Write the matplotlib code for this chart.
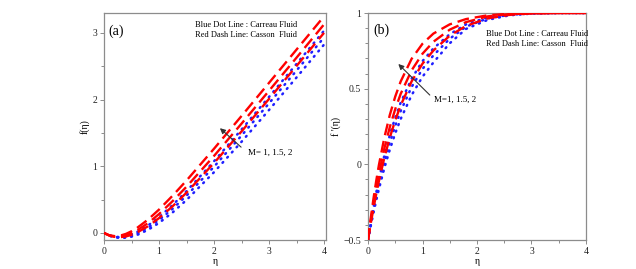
import matplotlib
matplotlib.use("Agg")
import matplotlib.pyplot as plt
from matplotlib.ticker import MultipleLocator

plt.rcParams["font.family"] = ["Liberation Serif", "DejaVu Serif"]

# ── (a) f(eta) ────────────────────────────────────────────────────────────────
eta_a = [0, 0.1, 0.2, 0.3, 0.4, 0.5, 0.6, 0.8, 1.0, 1.25, 1.5, 2.0, 2.5, 3.0, 3.5, 4.0]

f_casson = [
    [0, -0.036, -0.047, -0.038, -0.013, 0.026, 0.076, 0.201, 0.351, 0.562, 0.787, 1.264, 1.755, 2.252, 2.751, 3.250],
    [0, -0.038, -0.054, -0.052, -0.034, -0.003, 0.039, 0.148, 0.284, 0.480, 0.694, 1.156, 1.640, 2.133, 2.630, 3.129],
    [0, -0.039, -0.059, -0.062, -0.051, -0.028, 0.007, 0.101, 0.223, 0.403, 0.605, 1.050, 1.523, 2.011, 2.505, 3.002],
]
f_carreau = [
    [0, -0.039, -0.058, -0.060, -0.047, -0.022, 0.014, 0.112, 0.237, 0.421, 0.627, 1.076, 1.552, 2.041, 2.536, 3.034],
    [0, -0.040, -0.062, -0.067, -0.059, -0.039, -0.009, 0.078, 0.193, 0.365, 0.560, 0.994, 1.461, 1.945, 2.437, 2.933],
    [0, -0.041, -0.065, -0.074, -0.070, -0.055, -0.030, 0.047, 0.151, 0.310, 0.495, 0.912, 1.368, 1.845, 2.333, 2.826],
]

# ── (b) f'(eta) ───────────────────────────────────────────────────────────────
eta_b = [0, 0.05, 0.1, 0.15, 0.2, 0.3, 0.4, 0.5, 0.6, 0.8, 1.0, 1.2, 1.5, 1.8, 2.2, 2.6, 3.0, 3.5, 4.0]

fp_casson = [
    [-0.5, -0.357, -0.228, -0.111, -0.005, 0.177, 0.326, 0.448, 0.548, 0.697, 0.797, 0.864, 0.925, 0.960, 0.985, 0.995, 0.999, 1.0, 1.0],
    [-0.5, -0.376, -0.263, -0.159, -0.063, 0.105, 0.246, 0.365, 0.466, 0.621, 0.731, 0.810, 0.890, 0.940, 0.978, 0.993, 0.998, 1.0, 1.0],
    [-0.5, -0.392, -0.291, -0.198, -0.111, 0.044, 0.177, 0.291, 0.390, 0.548, 0.665, 0.752, 0.850, 0.915, 0.965, 0.988, 0.997, 1.0, 1.0],
]
fp_carreau = [
    [-0.5, -0.388, -0.285, -0.189, -0.100, 0.058, 0.193, 0.309, 0.408, 0.566, 0.682, 0.766, 0.860, 0.925, 0.972, 0.990, 0.998, 1.0, 1.0],
    [-0.5, -0.399, -0.304, -0.216, -0.134, 0.015, 0.143, 0.255, 0.352, 0.511, 0.630, 0.720, 0.830, 0.910, 0.965, 0.988, 0.997, 1.0, 1.0],
    [-0.5, -0.408, -0.321, -0.240, -0.164, -0.025, 0.097, 0.205, 0.300, 0.457, 0.579, 0.673, 0.800, 0.895, 0.955, 0.985, 0.996, 1.0, 1.0],
]

RED = "#ff0000"
BLUE = "#1f1fff"
GREY = "#8c8c8c"


def style_axes(ax):
    for s in ax.spines.values():
        s.set_color(GREY)
        s.set_linewidth(0.9)
    ax.tick_params(which="both", direction="out", colors=GREY, labelcolor="#222222",
                   labelsize=7, width=0.7, pad=2)
    ax.tick_params(which="major", length=3)
    ax.tick_params(which="minor", length=2)


def draw_curves(ax, x, reds, blues):
    for y in reds:
        ax.plot(x, y, color=RED, lw=1.7, dashes=(5, 2.5), zorder=3)
    for y in blues:
        ax.plot(x, y, color=BLUE, lw=1.8, linestyle=(0, (0.4, 2.4)),
                dash_capstyle="round", zorder=2)


fig = plt.figure(figsize=(6.36, 2.69), dpi=100)

# panel (a)
ax1 = fig.add_axes([104 / 636, 29 / 269, 222 / 636, 227 / 269])
draw_curves(ax1, eta_a, f_casson, f_carreau)
ax1.set_xlim(0, 4.036)
ax1.set_ylim(-0.105, 3.30)
ax1.xaxis.set_major_locator(MultipleLocator(1))
ax1.xaxis.set_minor_locator(MultipleLocator(0.5))
ax1.yaxis.set_major_locator(MultipleLocator(1))
ax1.yaxis.set_minor_locator(MultipleLocator(0.5))
style_axes(ax1)
ax1.set_xlabel("η", fontsize=7, labelpad=1)
ax1.set_ylabel("f(η)", fontsize=7, labelpad=2)
ax1.text(0.02, 0.95, "(a)", transform=ax1.transAxes, fontsize=10, va="top")
ax1.text(0.41, 0.965, "Blue Dot Line : Carreau Fluid\nRed Dash Line: Casson  Fluid",
         transform=ax1.transAxes, fontsize=6, va="top", linespacing=1.3)
ax1.annotate("", xy=(2.07, 1.60), xytext=(2.53, 1.26),
             arrowprops=dict(arrowstyle="-|>", color="#333333", lw=0.8, mutation_scale=8))
ax1.text(2.62, 1.21, "M= 1, 1.5, 2", fontsize=6.5, va="center")

# panel (b)
ax2 = fig.add_axes([368 / 636, 29 / 269, 218 / 636, 227 / 269])
draw_curves(ax2, eta_b, fp_casson, fp_carreau)
ax2.set_xlim(0, 4)
ax2.set_ylim(-0.5, 1.0)
ax2.xaxis.set_major_locator(MultipleLocator(1))
ax2.xaxis.set_minor_locator(MultipleLocator(0.5))
ax2.yaxis.set_major_locator(MultipleLocator(0.5))
ax2.yaxis.set_minor_locator(MultipleLocator(0.1))
ax2.yaxis.set_major_formatter(lambda v, p: f"{v:g}".replace("-", "\u2212"))
style_axes(ax2)
ax2.set_xlabel("η", fontsize=7, labelpad=1)
ax2.set_ylabel("f '(η)", fontsize=7, labelpad=2)
ax2.text(0.025, 0.955, "(b)", transform=ax2.transAxes, fontsize=10, va="top")
ax2.text(0.54, 0.925, "Blue Dot Line : Carreau Fluid\nRed Dash Line: Casson  Fluid",
         transform=ax2.transAxes, fontsize=6, va="top", linespacing=1.3)
ax2.annotate("", xy=(0.52, 0.676), xytext=(1.17, 0.445),
             arrowprops=dict(arrowstyle="-|>", color="#333333", lw=0.8, mutation_scale=8))
ax2.text(1.22, 0.425, "M=1, 1.5, 2", fontsize=6.5, va="center")

fig.savefig("out.png", dpi=100)
